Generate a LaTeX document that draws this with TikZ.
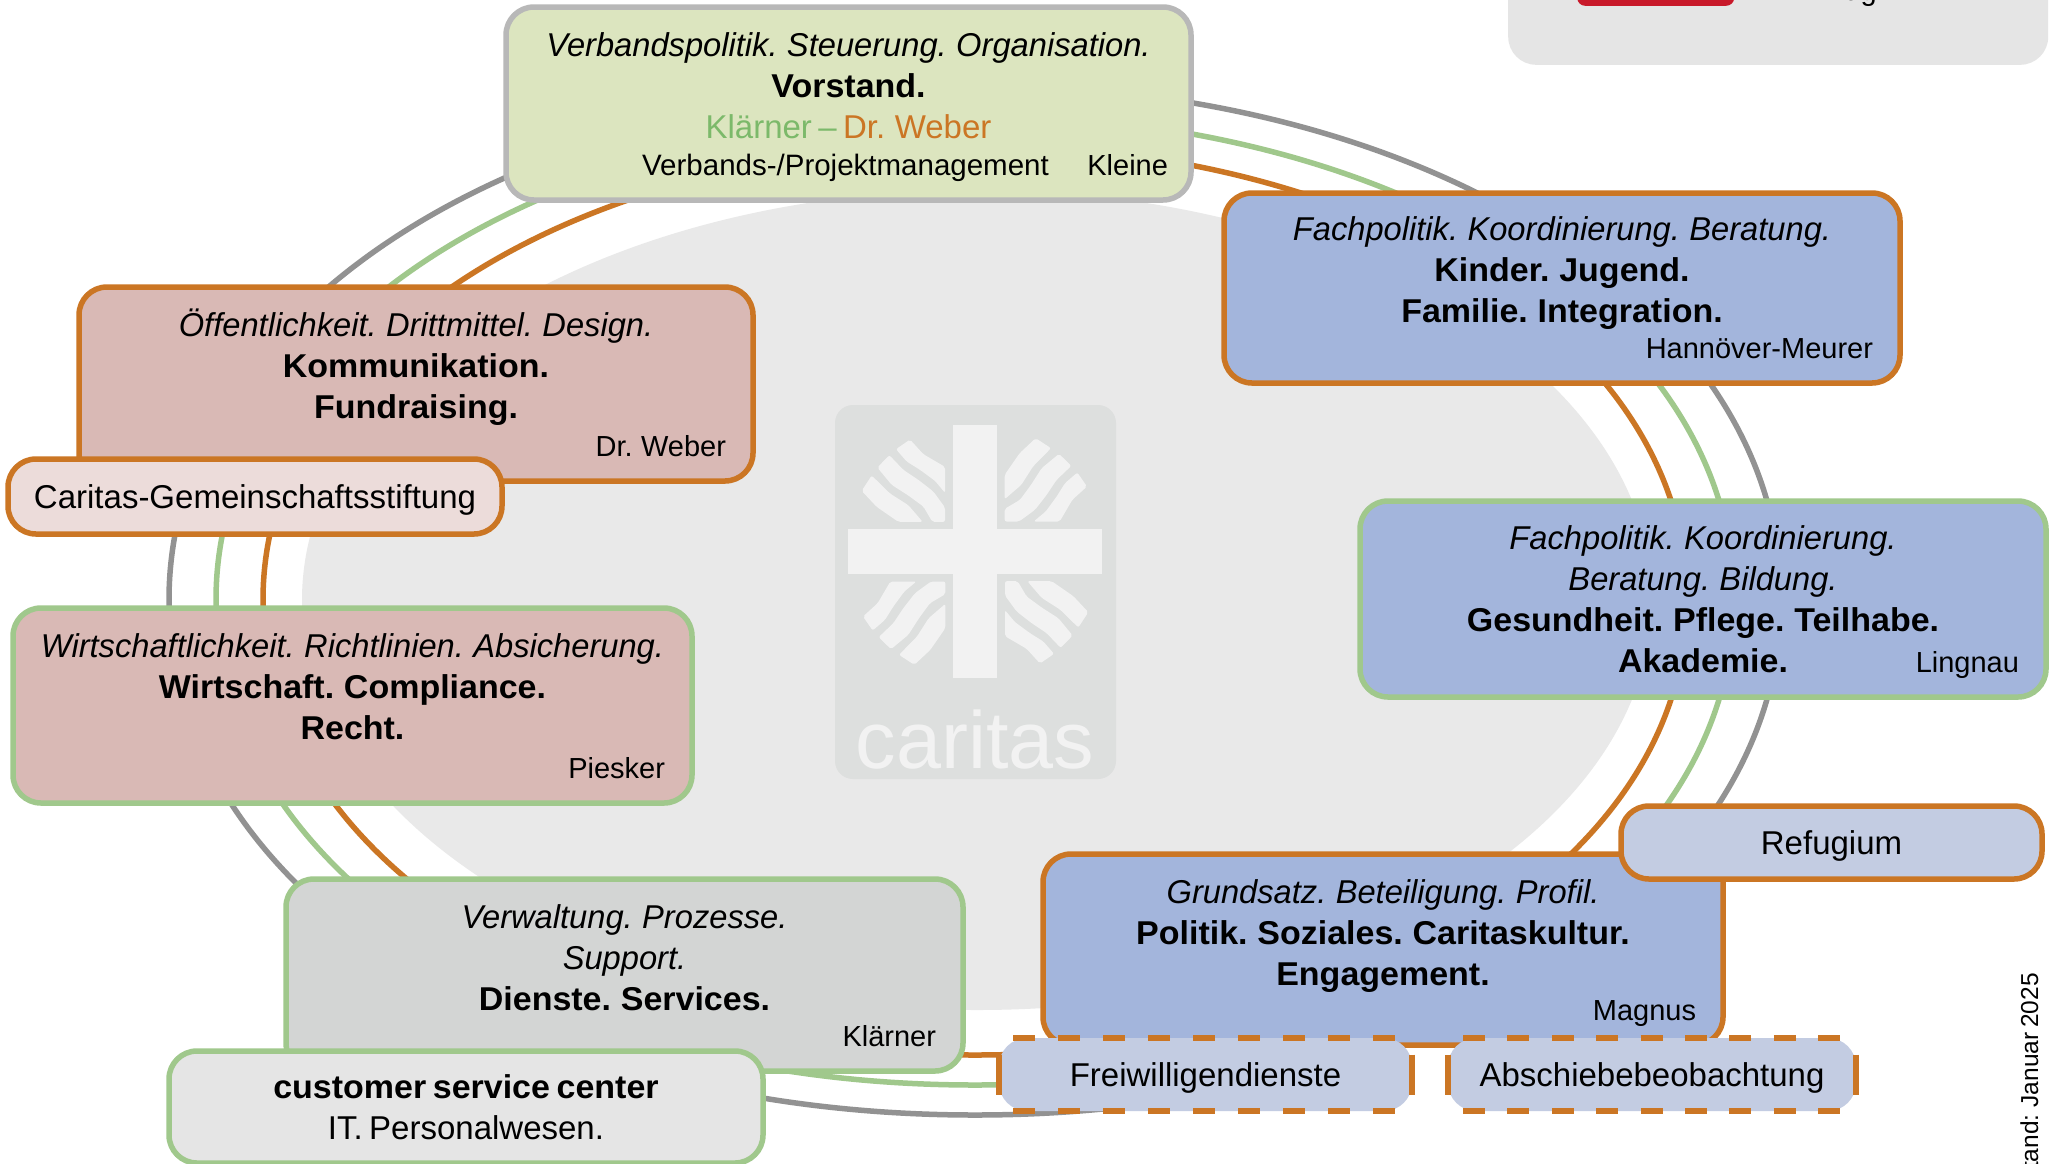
\documentclass[tikz,border=0pt]{standalone}
\usepackage{fontspec}
\setmainfont{Liberation Sans}[WordSpace=0.7, BoldFeatures={FakeStretch=1.03}, ItalicFeatures={FakeStretch=0.99}]
\usetikzlibrary{positioning}

\definecolor{lineorange}{HTML}{CB7624}
\definecolor{linegreen}{HTML}{A0C88C}
\definecolor{linegrey}{HTML}{929292}
\definecolor{textgreen}{HTML}{7CB96A}
\definecolor{unitgreen}{HTML}{DCE5BF}
\definecolor{unitblue}{HTML}{A3B5DC}
\definecolor{subblue}{HTML}{C3CCE2}
\definecolor{unitrose}{HTML}{D9B9B5}
\definecolor{subrose}{HTML}{ECDCDA}
\definecolor{unitgrey}{HTML}{D3D5D4}
\definecolor{subgrey}{HTML}{E5E5E5}
\definecolor{logolight}{HTML}{F2F2F2}
\definecolor{logogrey}{HTML}{DDDFDE}
\definecolor{blobgrey}{HTML}{E9E9E9}

\newcommand{\ringpath}[2]{(975+#1,600) .. controls (975+#1,600+.565*#2) and (975+.565*#1,600+#2) .. (975,600+#2)
  .. controls (975-.565*#1,600+#2) and (975-#1,600+.565*#2) .. (975-#1,600)
  .. controls (975-#1,600-.565*#2) and (975-.565*#1,600-#2) .. (975,600-#2)
  .. controls (975+.565*#1,600-#2) and (975+#1,600-.565*#2) .. (975+#1,600) -- cycle}

\tikzset{
  unit/.style={rectangle, rounded corners=28pt, line width=5.5pt, inner sep=0pt, outer sep=0pt, align=center,
    font=\fontsize{33}{41}\selectfont},
  single/.style={text height=30pt, text depth=7pt},
  owner/.style={inner sep=0pt, outer sep=0pt, text depth=7pt, font=\fontsize{29}{36}\selectfont},
  ring/.style={line width=5.5pt},
  flame/.style={fill=logolight, rounded corners=2pt},
  dashline/.style={draw=lineorange, line width=5.5pt}
}

\begin{document}
\begin{tikzpicture}[x=1pt, y=-1pt]
        \useasboundingbox (0,0) rectangle (2055,1163);
        \fill[white] (0,0) rectangle (2055,1163);

        % legend, cut by the page
        \node[fill=subgrey, rounded corners=28pt, minimum width=540pt, minimum height=200pt, inner sep=0pt, anchor=south west](legend) at (1508,65){};
        \node[fill={rgb,255:red,200;green,25;blue,42}, rounded corners=8pt, minimum width=157pt, minimum height=60pt, inner sep=0pt, anchor=south west](legendred) at (1577,6){};
        \node[owner, anchor=base west](legendtext) at (1788,0){Einzug};

        \fill[blobgrey] (977,600) ellipse [x radius=675, y radius=410];

        \begin{scope}
          \clip (0,0) -- (2055,0) -- (2055,880) -- (1200,880) -- (1200,1163) -- (0,1163) -- cycle;
          \foreach \col/\ra/\rb in {linegrey/806/515, linegreen/759/485, lineorange/712/455}
            \draw[ring, \col] \ringpath{\ra}{\rb};
        \end{scope}

        % logo
        \fill[logogrey, rounded corners=18pt] (835,405) rectangle (1116,779);
        \fill[logolight] (953,425) rectangle (997,678);
        \fill[logolight] (848,529) rectangle (1102,574);
        \foreach \r in {0,90,180,270}
        {
          \begin{scope}[shift={(975,551.5)}, rotate=\r, x=.3333pt, y=-.3333pt]
            \path[flame] (-237,-307) -- (-195,-336) -- (-155,-292) -- (-90,-254) -- (-90,-176) -- (-120,-212) -- (-165,-245) -- (-205,-270) -- cycle;
            \path[flame] (-257,-289) -- (-293,-252) -- (-250,-200) -- (-200,-168) -- (-155,-135) -- (-128,-89) -- (-90,-89) -- (-90,-132) -- (-125,-180) -- (-170,-215) -- (-215,-245) -- cycle;
            \path[flame] (-310,-228) -- (-340,-182) -- (-295,-134) -- (-230,-89) -- (-157,-89) -- (-200,-139) -- (-255,-174) -- cycle;
          \end{scope}
        }
        \node[inner sep=0pt, text=logolight, font=\fontsize{81}{90}\selectfont, anchor=base](logotext) at (975,768){caritas};

        \node[unit, fill=unitgreen, draw=black!28, text height=152pt, minimum width=685pt, minimum height=193pt, anchor=north west](vorstand) at (506,7)
          {\textit{Verbandspolitik. Steuerung. Organisation.}\\ \textbf{Vorstand.}\\ \textcolor{textgreen}{Klärner –} \textcolor{lineorange}{Dr. Weber}\\ \mbox{}};
        \node[owner, font=\fontsize{29.5}{36}\selectfont](vorstandline)[above = 17.5pt of vorstand.south, xshift=-3pt]{Verbands-/Projektmanagement};
        \node[owner](vorstandowner)[above left = 17.5pt and 23pt of vorstand.south east]{Kleine};

        \node[unit, fill=unitblue, draw=lineorange, text height=151pt, minimum width=676pt, minimum height=190pt](kinder)[below right = -7pt and 33pt of vorstand.south east]
          {\textit{Fachpolitik. Koordinierung. Beratung.}\\ \textbf{Kinder. Jugend.}\\ \textbf{Familie. Integration.}\\ \mbox{}};
        \node[owner](kinderowner)[above left = 17.5pt and 27pt of kinder.south east]{Hannöver-Meurer};

        \node[unit, fill=unitblue, draw=linegreen, minimum width=686pt, minimum height=196pt](gesundheit)[below right = 118pt and 136pt of kinder.south west]
          {\textit{Fachpolitik. Koordinierung.}\\ \textit{Beratung. Bildung.}\\ \textbf{Gesundheit. Pflege. Teilhabe.}\\ \textbf{Akademie.}};
        \node[owner](gesundheitowner)[above left = 17.5pt and 27pt of gesundheit.south east]{Lingnau};

        \node[unit, fill=unitblue, draw=lineorange, text height=153pt, minimum width=680pt, minimum height=191pt](politik)[below right = 157pt and -317pt of gesundheit.south west]
          {\textit{Grundsatz. Beteiligung. Profil.}\\ \textbf{Politik. Soziales. Caritaskultur.}\\ \textbf{Engagement.}\\ \mbox{}};
        \node[owner](politikowner)[above left = 17.5pt and 27pt of politik.south east]{Magnus};

        \node[unit, fill=subblue, draw=lineorange, single, minimum width=421pt, minimum height=73pt](refugium)[below right = 109pt and 261pt of gesundheit.south west]{Refugium};

        \node[unit, fill=subblue, single, minimum width=413pt, minimum height=73pt](freiwillig)[below right = -7pt and -44pt of politik.south west]{Freiwilligendienste};
        \node[unit, fill=subblue, single, minimum width=408pt, minimum height=73pt](abschiebe)[right = 36pt of freiwillig]{Abschiebebeobachtung};
        \foreach \sub/\gap/\inl/\inr in {freiwillig/23/14/15, abschiebe/22.4/15/16}
        {
          \draw[dashline, dash pattern=on 22pt off \gap pt] ([xshift=\inl pt]\sub.north west) -- ([xshift=-\inr pt]\sub.north east);
          \draw[dashline, dash pattern=on 22pt off \gap pt] ([xshift=\inl pt]\sub.south west) -- ([xshift=-\inr pt]\sub.south east);
          \draw[dashline] ([yshift=20pt]\sub.west) -- ([yshift=-20pt]\sub.west);
          \draw[dashline] ([yshift=20pt]\sub.east) -- ([yshift=-20pt]\sub.east);
        }

        \node[unit, fill=unitgrey, draw=linegreen, text height=152pt, minimum width=677pt, minimum height=192pt](dienste)[above left = -33pt and 36pt of freiwillig.north west]
          {\textit{Verwaltung. Prozesse.}\\ \textit{Support.}\\ \textbf{Dienste. Services.}\\ \mbox{}};
        \node[owner](diensteowner)[above left = 17.5pt and 27pt of dienste.south east]{Klärner};

        \node[unit, fill=subgrey, draw=linegreen, minimum width=594pt, minimum height=112pt](service)[below right = -20pt and -117pt of dienste.south west]
          {\textbf{customer service center}\\ IT. Personalwesen.};

        \node[unit, fill=unitrose, draw=linegreen, text height=150pt, minimum width=679pt, minimum height=195pt](wirtschaft)[above right = 76pt and -273pt of dienste.north west]
          {\textit{Wirtschaftlichkeit. Richtlinien. Absicherung.}\\ \textbf{Wirtschaft. Compliance.}\\ \textbf{Recht.}\\ \mbox{}};
        \node[owner](wirtschaftowner)[above left = 17.5pt and 27pt of wirtschaft.south east]{Piesker};

        \node[unit, fill=unitrose, draw=lineorange, text height=150pt, minimum width=674pt, minimum height=194pt](kommunikation)[above right = 127pt and 66pt of wirtschaft.north west]
          {\textit{Öffentlichkeit. Drittmittel. Design.}\\ \textbf{Kommunikation.}\\ \textbf{Fundraising.}\\ \mbox{}};
        \node[owner](kommunikationowner)[above left = 17.5pt and 27pt of kommunikation.south east]{Dr. Weber};

        \node[unit, fill=subrose, draw=lineorange, single, minimum width=494pt, minimum height=75pt](stiftung)[below right = -22pt and -71pt of kommunikation.south west]{Caritas-Gemeinschaftsstiftung};

        \node[inner sep=0pt, rotate=90, anchor=base east, font=\fontsize{24.5}{28}\selectfont](stand) at (2038,973){Stand: Januar 2025};
    \end{tikzpicture}
\end{document}
